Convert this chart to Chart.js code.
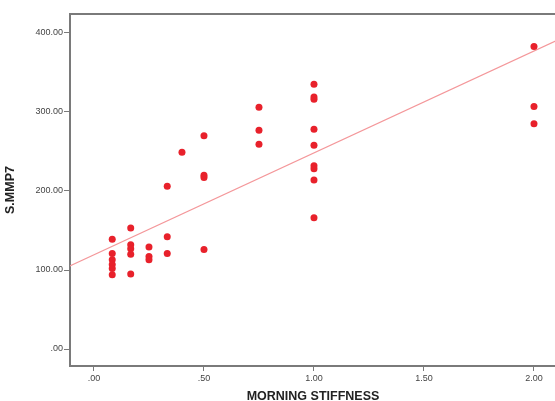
<!DOCTYPE html>
<html lang="en">
<head>
    <meta charset="UTF-8">
    <title>S.MMP7 vs Morning Stiffness</title>
    <style>
        body {
            margin: 0;
            padding: 0;
            background: #ffffff;
            overflow: hidden;
        }
        canvas {
            display: block;
        }
    </style>
</head>
<body>
    <canvas id="chart" width="560" height="401"></canvas>
    <script src="https://cdn.jsdelivr.net/npm/chart.js"></script>
    <script>
        // morning stiffness (x) and S.MMP7 (y), one entry per patient
        const stiffness = [
            0.083, 0.083, 0.083, 0.083, 0.083, 0.083,
            0.167, 0.167, 0.167, 0.167, 0.167,
            0.25, 0.25, 0.25,
            0.333, 0.333, 0.333,
            0.4,
            0.5, 0.5, 0.5, 0.5,
            0.75, 0.75, 0.75,
            1, 1, 1, 1, 1, 1, 1, 1, 1,
            2, 2, 2
        ];
        const mmp7 = [
            139, 121, 113, 107, 102, 94,
            153, 132, 127, 120, 95,
            129, 117, 113,
            206, 142, 121,
            249,
            270, 220, 217, 126,
            306, 277, 259,
            335, 319, 316, 278, 258, 232, 228, 214, 166,
            383, 307, 285
        ];
        // fit line end points
        const fitX = [-0.11, 2.1];
        const fitY = [105, 390];

        const yTicks = [0, 100, 200, 300, 400];
        const xTicks = [0, 0.5, 1, 1.5, 2];

        const fmt = v => v.toFixed(2).replace(/^0/, '');
        const font = 'Liberation Sans, Arial, sans-serif';

        const framePlugin = {
            id: 'frame',
            afterDraw(chart) {
                const a = chart.chartArea;
                const ctx = chart.ctx;
                ctx.save();
                ctx.strokeStyle = '#7a7a7a';
                ctx.lineWidth = 2;
                ctx.beginPath();
                ctx.moveTo(a.left, a.top);
                ctx.lineTo(a.right + 5, a.top);
                ctx.stroke();
                ctx.restore();
            }
        };

        new Chart(document.getElementById('chart'), {
            type: 'scatter',
            data: {
                datasets: [
                    {
                        data: stiffness.map((x, i) => ({ x: x, y: mmp7[i] })),
                        backgroundColor: '#e8212b',
                        borderColor: '#e8212b',
                        pointRadius: 3.5,
                        pointBorderWidth: 0
                    },
                    {
                        type: 'line',
                        data: fitX.map((x, i) => ({ x: x, y: fitY[i] })),
                        borderColor: '#f4979a',
                        borderWidth: 1.2,
                        pointRadius: 0,
                        fill: false
                    }
                ]
            },
            options: {
                responsive: false,
                animation: false,
                layout: { padding: { top: 14, right: 0, left: 0, bottom: 0 } },
                plugins: {
                    legend: { display: false },
                    tooltip: { enabled: false }
                },
                scales: {
                    x: {
                        type: 'linear',
                        min: -0.109,
                        max: 2.1,
                        afterBuildTicks: s => { s.ticks = xTicks.map(v => ({ value: v })); },
                        afterFit: s => { s.height = 35; },
                        grid: { drawOnChartArea: false, tickLength: 5, color: '#7a7a7a' },
                        border: { color: '#7a7a7a', width: 2 },
                        ticks: {
                            callback: v => fmt(v),
                            color: '#444',
                            padding: 2,
                            maxRotation: 0,
                            font: { family: font, size: 9 }
                        },
                        title: {
                            display: true,
                            text: 'MORNING STIFFNESS',
                            color: '#222',
                            padding: { top: 0, bottom: -3 },
                            font: { family: font, size: 12.5, weight: 'bold' }
                        }
                    },
                    y: {
                        min: -21.5,
                        max: 424,
                        afterBuildTicks: s => { s.ticks = yTicks.map(v => ({ value: v })); },
                        afterFit: s => { s.width = 70; },
                        grid: { drawOnChartArea: false, tickLength: 6, color: '#7a7a7a' },
                        border: { color: '#7a7a7a', width: 2 },
                        ticks: {
                            callback: v => fmt(v),
                            color: '#444',
                            padding: 1,
                            font: { family: font, size: 9 }
                        },
                        title: {
                            display: true,
                            text: 'S.MMP7',
                            color: '#222',
                            padding: { top: 3, bottom: 0 },
                            font: { family: font, size: 12.5, weight: 'bold' }
                        }
                    }
                }
            },
            plugins: [framePlugin]
        });
    </script>
</body>
</html>
